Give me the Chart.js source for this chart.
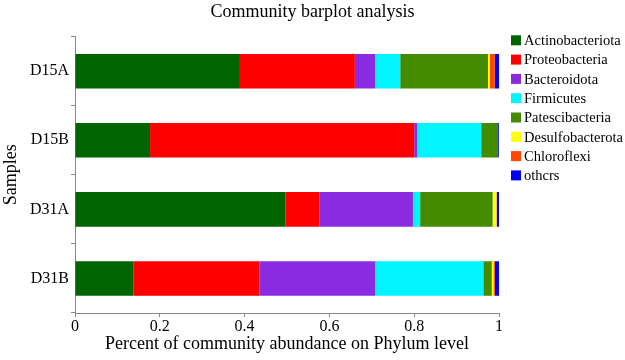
<!DOCTYPE html>
<html>
<head>
<meta charset="utf-8">
<script src="https://cdn.jsdelivr.net/npm/chart.js@4"></script>
<style>
  html, body { margin: 0; padding: 0; background: #fff; }
  #wrap { width: 625px; height: 360px; }
</style>
</head>
<body>
<div id="wrap"><canvas id="chartcanvas"></canvas></div>
<script>
const samples = ['D15A', 'D15B', 'D31A', 'D31B'];
const phyla = ['Actinobacteriota', 'Proteobacteria', 'Bacteroidota', 'Firmicutes',
  'Patescibacteria', 'Desulfobacterota', 'Chloroflexi', 'othcrs'];
const phylumColors = ['#006400', '#ff0000', '#8a2be2', '#00f5ff',
  '#458b00', '#ffff00', '#ff4500', '#0000ff'];
// one row per phylum, values per sample (D15A, D15B, D31A, D31B)
const actino = [0.389, 0.177, 0.496, 0.138];
const proteo = [0.271, 0.623, 0.081, 0.297];
const bactero = [0.048, 0.007, 0.220, 0.273];
const firmi = [0.059, 0.151, 0.017, 0.255];
const patesci = [0.207, 0.040, 0.171, 0.020];
const desulfo = [0.004, 0.000, 0.009, 0.004];
const chloro = [0.012, 0.000, 0.001, 0.003];
const others = [0.010, 0.002, 0.005, 0.010];
const seriesValues = [actino, proteo, bactero, firmi, patesci, desulfo, chloro, others];
const xTicks = [0, 0.2, 0.4, 0.6, 0.8, 1];

const serif = "'Liberation Serif', 'DejaVu Serif', serif";
const ctx = document.getElementById('chartcanvas').getContext('2d');

// legend drawn by hand so it sits exactly where the original one is
const sideLegend = {
  id: 'sideLegend',
  afterDraw(chart) {
    const c = chart.ctx;
    const left = chart.chartArea.right + 12;
    c.save();
    c.font = '14.5px ' + serif;
    c.textBaseline = 'middle';
    c.textAlign = 'left';
    chart.data.datasets.forEach((ds, i) => {
      const y = 40.3 + i * 19.3;
      c.fillStyle = ds.backgroundColor;
      c.fillRect(left, y - 5, 10, 10);
      c.fillStyle = '#000';
      c.fillText(ds.label, left + 13, y + 1);
    });
    c.restore();
  }
};

const chart = new Chart(ctx, {
  type: 'bar',
  data: {
    labels: samples,
    datasets: phyla.map((name, i) => ({
      label: name,
      data: seriesValues[i],
      backgroundColor: phylumColors[i],
      borderWidth: 0,
      categoryPercentage: 1.0,
      barPercentage: 0.5
    }))
  },
  options: {
    indexAxis: 'y',
    responsive: true,
    maintainAspectRatio: false,
    animation: false,
    layout: { padding: 0 },
    scales: {
      x: {
        stacked: true,
        min: 0,
        max: 1,
        afterBuildTicks: (axis) => { axis.ticks = xTicks.map(v => ({ value: v })); },
        afterFit: (axis) => { axis.height = 47; },
        grid: { drawOnChartArea: false, drawTicks: true, tickLength: 4, color: '#888' },
        border: { color: '#888', width: 1 },
        ticks: {
          color: '#000',
          font: { family: serif, size: 16 },
          padding: 0,
          callback: (v) => String(v)
        },
        title: {
          display: true,
          text: 'Percent of community abundance on Phylum level',
          color: '#000',
          font: { family: serif, size: 18 },
          padding: { top: 0, bottom: 5 }
        }
      },
      y: {
        stacked: true,
        afterFit: (axis) => { axis.width = 75; },
        grid: { drawOnChartArea: false, drawTicks: true, tickLength: 4, color: '#888' },
        border: { color: '#888', width: 1 },
        ticks: { color: '#000', font: { family: serif, size: 16 }, padding: 2 },
        title: {
          display: true,
          text: 'Samples',
          color: '#000',
          font: { family: serif, size: 18 },
          padding: { top: 0, bottom: 0 }
        }
      },
      // empty right-hand axis that only reserves room for the legend
      side: {
        type: 'category',
        position: 'right',
        axis: 'y',
        labels: samples,
        afterFit: (axis) => { axis.width = 126; },
        grid: { display: false },
        border: { display: false },
        ticks: { display: false }
      }
    },
    plugins: {
      legend: { display: false },
      tooltip: { enabled: false },
      title: {
        display: true,
        text: 'Community barplot analysis',
        color: '#000',
        font: { family: serif, size: 18, weight: 'normal' },
        padding: { top: 1, bottom: 14 }
      }
    }
  },
  plugins: [sideLegend]
});
</script>
</body>
</html>
